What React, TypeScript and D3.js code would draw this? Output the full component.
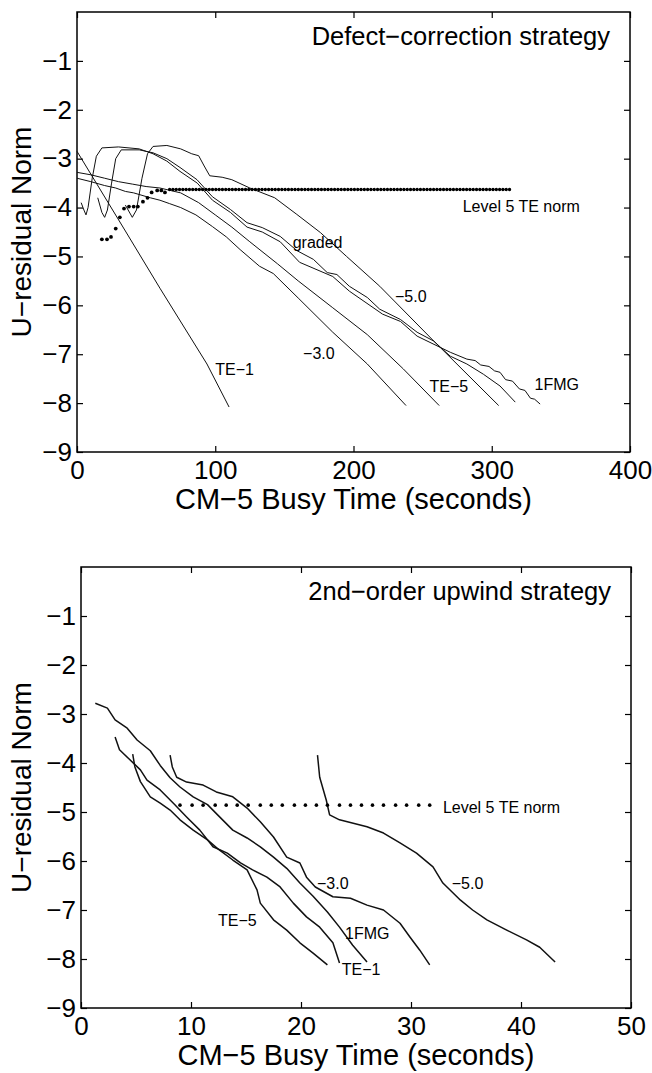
import * as d3 from "d3";
import { useEffect, useRef } from "react";

// ---- shared axis values ----
const yTickValues = [-9, -8, -7, -6, -5, -4, -3, -2, -1];
const topXTicks = [0, 100, 200, 300, 400];
const bottomXTicks = [0, 10, 20, 30, 40, 50];

// ---- top panel: defect-correction strategy, [seconds, log residual] ----
const topTE1 = [[0, -2.85], [35, -4.48], [60, -5.65], [94, -7.2], [110, -8.08]];
const topMinus3 = [
  [0, -3.4], [10, -3.47], [20, -3.55], [28, -3.6], [35, -3.67], [41, -3.7], [47, -3.75], [53, -3.8],
  [60, -3.85], [67, -3.92], [75, -4.0], [86, -4.15], [98, -4.39], [108, -4.6], [118, -4.86],
  [132, -5.2], [142, -5.35], [160, -5.85], [185, -6.55], [210, -7.2], [238, -8.05],
];
const topTE5 = [
  [0, -3.28], [10, -3.33], [20, -3.4], [30, -3.47], [40, -3.52], [50, -3.57], [60, -3.6], [75, -3.7],
  [88, -3.9], [100, -4.15], [112, -4.4], [125, -4.7], [145, -5.15], [160, -5.5], [185, -6.05],
  [210, -6.6], [236, -7.3], [262, -8.05],
];
const topGraded = [
  [15, -3.8], [18, -4.1], [20, -4.2], [22, -4.05], [25, -3.5], [28, -3.0], [32, -2.82], [45, -2.82],
  [55, -2.88], [65, -3.0], [74.5, -3.18], [86.8, -3.43], [98, -3.78], [111, -4.04], [123, -4.31],
  [134, -4.41], [147, -4.59], [159, -4.88], [171, -5.06], [181, -5.33], [188, -5.37], [197, -5.61],
  [210, -5.84], [219, -6.08], [234, -6.29], [246, -6.55], [258, -6.73], [270, -7.04], [282, -7.2],
  [294, -7.41], [306, -7.65], [317, -7.98],
];
const topMinus5 = [
  [35, -3.95], [40, -4.2], [43, -4.05], [47, -3.4], [51, -2.9], [55, -2.75], [65, -2.73], [75, -2.8],
  [83, -2.9], [88, -2.94], [92, -3.15], [96, -3.35], [105, -3.38], [112, -3.43], [125, -3.6],
  [143, -3.8], [159, -4.14], [176, -4.51], [195, -5.0], [219, -5.61], [257, -6.7], [305, -8.05],
];
const top1FMG = [
  [3, -3.9], [5, -4.05], [6.5, -4.15], [8, -4.0], [11, -3.4], [14, -2.95], [18, -2.78], [30, -2.76],
  [45, -2.8], [55, -2.9], [65, -3.05], [74.5, -3.26], [87, -3.5], [98, -3.85], [111, -4.1],
  [123, -4.4], [134, -4.5], [147, -4.7], [161, -5.12], [185, -5.41], [197, -5.71], [221, -6.18],
  [234, -6.33], [246, -6.63], [270, -6.96], [282, -7.1], [288, -7.13], [292, -7.22], [298, -7.25],
  [302, -7.34], [306, -7.37], [310, -7.52], [315, -7.55], [320, -7.71], [324, -7.74], [328, -7.9],
  [331, -7.92], [335, -8.02],
];
const topTEDots = [
  [18, -4.65], [21.7, -4.65], [24.6, -4.6], [28, -4.43], [31, -4.2], [34, -4.02], [37.6, -3.98],
  [41, -3.98], [44, -3.98], [47.7, -3.88], [51, -3.8], [54, -3.69], [58, -3.65], [61, -3.65], [63.6, -3.69],
];
const topTELevel = { from: 67, to: 315, value: -3.63 };

// ---- bottom panel: 2nd-order upwind strategy ----
const botTE1 = [
  [3.1, -3.47], [3.5, -3.73], [5.4, -4.14], [6, -4.35], [7.2, -4.55], [8.4, -4.82], [9.6, -5.1],
  [10.8, -5.37], [12, -5.71], [13.3, -5.84], [14.5, -6.04], [15.6, -6.18], [16.9, -6.33], [18.1, -6.53],
  [19.3, -6.86], [20.5, -7.14], [21.7, -7.35], [22.9, -7.67], [23.5, -8.08],
];
const botTE5 = [
  [4.7, -3.82], [4.9, -4.08], [5.4, -4.38], [6.3, -4.69], [7.2, -4.82], [8.1, -4.96], [9, -5.16],
  [10.2, -5.37], [11.5, -5.57], [12.6, -5.78], [13.8, -5.98], [15.1, -6.18], [16, -6.59], [16.3, -6.86],
  [17.5, -7.2], [18.7, -7.41], [19.9, -7.67], [21.1, -7.88], [22.4, -8.12],
];
const bot1FMG = [
  [1.3, -2.78], [2.4, -2.88], [3.1, -3.12], [4.2, -3.29], [5.1, -3.53], [6.3, -3.75], [7.2, -4.05],
  [8.1, -4.3], [9, -4.49], [10.2, -4.69], [11.5, -4.85], [12.6, -5.1], [13.8, -5.37], [15.1, -5.53],
  [16.3, -5.71], [17.5, -5.92], [18.7, -6.15], [19.9, -6.45], [21.1, -6.72], [22.4, -7.04],
  [23.5, -7.35], [24.7, -7.72], [26, -8.06],
];
const botMinus3 = [
  [8.1, -3.84], [8.3, -4.08], [8.7, -4.29], [9.6, -4.39], [11.1, -4.45], [12.3, -4.59], [13.8, -4.69],
  [15.1, -4.92], [16.3, -5.2], [17.5, -5.51], [18.7, -5.92], [19.9, -6.04], [20.5, -6.33], [21.3, -6.53],
  [22.9, -6.73], [24.5, -6.76], [26, -6.9], [27.5, -7.0], [29, -7.27], [29.9, -7.55], [30.8, -7.82],
  [31.7, -8.12],
];
const botMinus5 = [
  [21.5, -3.84], [21.7, -4.29], [22.3, -4.76], [22.6, -5.06], [23.5, -5.16], [26, -5.3], [27.5, -5.43],
  [29, -5.63], [30.5, -5.84], [32, -6.12], [32.9, -6.45], [34.5, -6.8], [35.6, -7.0], [36.9, -7.2],
  [38.7, -7.41], [40.5, -7.61], [41.7, -7.76], [43.1, -8.06],
];
const botTEDotTimes = [
  9.0, 10.1, 11.1, 12.2, 13.2, 14.2, 15.2, 16.3, 17.3, 18.3, 19.4, 20.4, 21.4, 22.4, 23.5, 24.5,
  25.5, 26.5, 27.5, 28.6, 29.6, 30.7, 31.7,
];
const botTEValue = -4.86;

const FONT = "'Liberation Sans', Arial, Helvetica, sans-serif";

function Panel({ frame, xDomain, xTicks, title, curves, labels, dots, level, dotR, lineWidth }) {
  const axisBottomRef = useRef(null);
  const axisLeftRef = useRef(null);
  const axisTopRef = useRef(null);
  const axisRightRef = useRef(null);

  const scaleX = d3.scaleLinear().domain(xDomain).range([frame.left, frame.right]);
  const scaleY = d3.scaleLinear().domain([-9, 0]).range([frame.bottom, frame.top]);
  const line = d3.line().x(d => scaleX(d[0])).y(d => scaleY(d[1]));

  useEffect(() => {
    const style = (sel, labelled) => {
      sel.attr("font-family", FONT).attr("font-size", 26);
      sel.select(".domain").remove();
      sel.selectAll(".tick line").attr("stroke", "#000").attr("stroke-width", 1.2);
      if (!labelled) sel.selectAll(".tick text").remove();
      else sel.selectAll(".tick text").attr("fill", "#000");
    };
    d3.select(axisBottomRef.current)
      .call(d3.axisBottom(scaleX).tickValues(xTicks).tickSizeInner(-6).tickSizeOuter(0).tickPadding(9).tickFormat(d3.format("d")))
      .call(s => style(s, true));
    d3.select(axisTopRef.current)
      .call(d3.axisTop(scaleX).tickValues(xTicks).tickSizeInner(-6).tickSizeOuter(0))
      .call(s => style(s, false));
    d3.select(axisLeftRef.current)
      .call(d3.axisLeft(scaleY).tickValues(yTickValues).tickSizeInner(-6).tickSizeOuter(0).tickPadding(5).tickFormat(d3.format("d")))
      .call(s => style(s, true));
    d3.select(axisRightRef.current)
      .call(d3.axisRight(scaleY).tickValues(yTickValues).tickSizeInner(-6).tickSizeOuter(0))
      .call(s => style(s, false));
  }, [scaleX, scaleY]);

  return (
    <g>
      <g ref={axisBottomRef} transform={`translate(0, ${frame.bottom})`} />
      <g ref={axisTopRef} transform={`translate(0, ${frame.top})`} />
      <g ref={axisLeftRef} transform={`translate(${frame.left}, 0)`} />
      <g ref={axisRightRef} transform={`translate(${frame.right}, 0)`} />
      <rect
        x={frame.left}
        y={frame.top}
        width={frame.right - frame.left}
        height={frame.bottom - frame.top}
        fill="none"
        stroke="#000"
        strokeWidth={1.5}
      />
      {curves.map((c, i) => (
        <path key={`curve-${i}`} d={line(c)} fill="none" stroke="#111" strokeWidth={lineWidth} strokeLinejoin="round" />
      ))}
      {dots.map((d, i) => (
        <circle key={`dot-${i}`} cx={scaleX(d[0])} cy={scaleY(d[1])} r={dotR} fill="#000" />
      ))}
      {level ? (
        <line
          x1={scaleX(level.from)}
          x2={scaleX(level.to)}
          y1={scaleY(level.value)}
          y2={scaleY(level.value)}
          stroke="#000"
          strokeWidth={3.4}
          strokeLinecap="round"
          strokeDasharray="0 3.3"
        />
      ) : null}
      {labels.map((l, i) => (
        <text
          key={`label-${i}`}
          x={scaleX(l.x)}
          y={scaleY(l.y)}
          dy="0.35em"
          fontFamily={FONT}
          fontSize={16}
          fill="#000"
        >
          {l.text}
        </text>
      ))}
      <text x={frame.right - 20} y={frame.top + 33} textAnchor="end" fontFamily={FONT} fontSize={25.5} fill="#000">
        {title}
      </text>
      <text
        x={(frame.left + frame.right) / 2}
        y={frame.bottom + 57}
        textAnchor="middle"
        fontFamily={FONT}
        fontSize={29}
        fill="#000"
      >
        CM−5 Busy Time (seconds)
      </text>
      <text
        transform={`translate(31, ${(frame.top + frame.bottom) / 2}) rotate(-90)`}
        textAnchor="middle"
        fontFamily={FONT}
        fontSize={28}
        fill="#000"
      >
        U−residual Norm
      </text>
    </g>
  );
}

export default function App() {
  useEffect(() => {
    document.body.style.margin = "0";
  }, []);

  const topLabels = [
    { text: "Level 5 TE norm", x: 279, y: -3.98 },
    { text: "graded", x: 156, y: -4.71 },
    { text: "−5.0", x: 230, y: -5.82 },
    { text: "−3.0", x: 163.5, y: -6.98 },
    { text: "TE−5", x: 255, y: -7.65 },
    { text: "1FMG", x: 331, y: -7.61 },
    { text: "TE−1", x: 100, y: -7.31 },
  ];
  const bottomLabels = [
    { text: "Level 5 TE norm", x: 32.9, y: -4.9 },
    { text: "−3.0", x: 21.45, y: -6.45 },
    { text: "−5.0", x: 33.7, y: -6.45 },
    { text: "1FMG", x: 24, y: -7.47 },
    { text: "TE−1", x: 23.7, y: -8.22 },
    { text: "TE−5", x: 12.45, y: -7.22 },
  ];

  return (
    <svg width={652} height={1073} style={{ display: "block", background: "#fff" }}>
      <Panel
        frame={{ left: 77, right: 630, top: 12, bottom: 452 }}
        xDomain={[0, 400]}
        xTicks={topXTicks}
        title="Defect−correction strategy"
        curves={[topTE1, topMinus3, topTE5, topGraded, topMinus5, top1FMG]}
        labels={topLabels}
        dots={topTEDots}
        level={topTELevel}
        dotR={1.9}
        lineWidth={1}
      />
      <Panel
        frame={{ left: 81, right: 631, top: 567, bottom: 1008 }}
        xDomain={[0, 50]}
        xTicks={bottomXTicks}
        title="2nd−order upwind strategy"
        curves={[botTE1, botTE5, bot1FMG, botMinus3, botMinus5]}
        labels={bottomLabels}
        dots={botTEDotTimes.map(t => [t, botTEValue])}
        level={null}
        dotR={1.8}
        lineWidth={1.5}
      />
    </svg>
  );
}
